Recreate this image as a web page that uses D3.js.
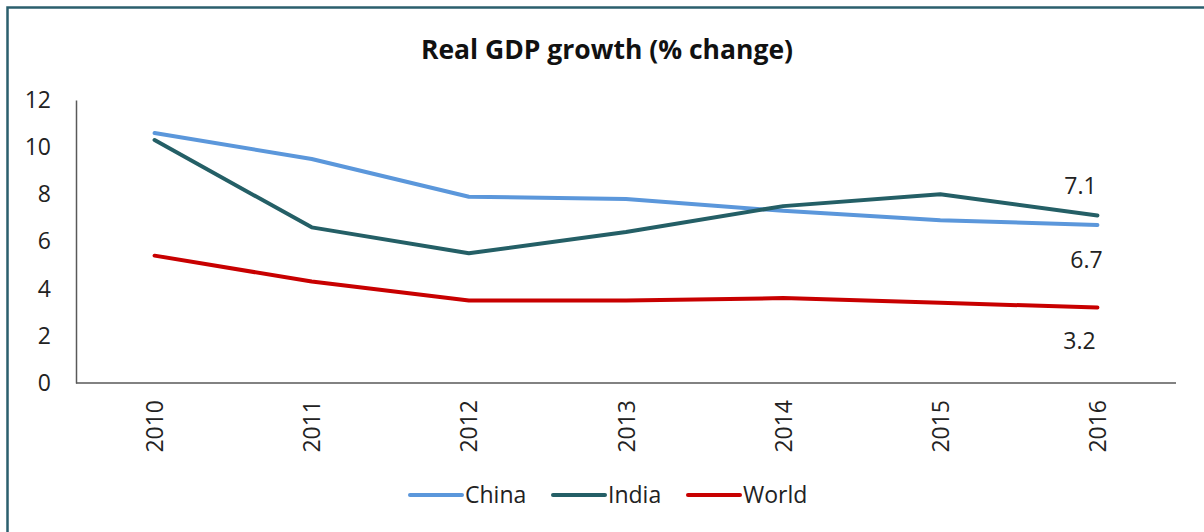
<!DOCTYPE html>
<html>
<head>
<meta charset="utf-8">
<script src="https://cdn.jsdelivr.net/npm/d3@7"></script>
<style>
  body { margin: 0; background: #fff; }
  svg { display: block; font-family: "Open Sans", Lato, sans-serif; }
</style>
</head>
<body>
<div id="chart"></div>
<script>
var years = ["2010", "2011", "2012", "2013", "2014", "2015", "2016"];
var china = [10.6, 9.5, 7.9, 7.8, 7.3, 6.9, 6.7];
var india = [10.3, 6.6, 5.5, 6.4, 7.5, 8.0, 7.1];
var world = [5.4, 4.3, 3.5, 3.5, 3.6, 3.4, 3.2];
var yTicks = [0, 2, 4, 6, 8, 10, 12];

var series = [
  {name: "China", values: china, color: "#5b97db"},
  {name: "India", values: india, color: "#245f66"},
  {name: "World", values: world, color: "#c80000"}
];

var font = "'Open Sans', Lato, sans-serif";
var W = 1204, H = 532;
var margin = {top: 100, right: 28, bottom: 149, left: 76}
  , width = W - margin.left - margin.right
  , height = H - margin.top - margin.bottom;

var svg = d3.select("#chart").append("svg")
    .attr("width", W)
    .attr("height", H);

// outer frame (right and bottom run off the picture)
svg.append("rect")
    .attr("x", 7.5).attr("y", 7.5)
    .attr("width", W + 20).attr("height", H + 20)
    .attr("fill", "none")
    .attr("stroke", "#2b5f6d")
    .attr("stroke-width", 2.5);

svg.append("text")
    .attr("x", 607).attr("y", 59)
    .attr("text-anchor", "middle")
    .attr("font-size", 26.5)
    .attr("font-weight", "bold")
    .attr("fill", "#111")
    .text("Real GDP growth (% change)");

var g = svg.append("g")
    .attr("transform", "translate(" + margin.left + "," + margin.top + ")");

var xScale = d3.scalePoint()
    .domain(years)
    .range([0, width])
    .padding(0.5);

var yScale = d3.scaleLinear()
    .domain([0, 12])
    .range([height, 0]);

// y axis
var yAxis = g.append("g")
    .call(d3.axisLeft(yScale).tickValues(yTicks).tickSize(0).tickPadding(25));
yAxis.select(".domain").attr("stroke", "#595959").attr("stroke-width", 1.5);
yAxis.selectAll("text").attr("font-size", 23).attr("fill", "#222")
    .attr("font-family", font);

// x axis
var xAxis = g.append("g")
    .attr("transform", "translate(0," + height + ")")
    .call(d3.axisBottom(xScale).tickSize(0).tickSizeOuter(0));
xAxis.select(".domain").attr("stroke", "#595959").attr("stroke-width", 1.5)
    .attr("d", "M0,0H" + width);
xAxis.selectAll("text")
    .attr("font-size", 23).attr("fill", "#222")
    .attr("font-family", font)
    .attr("text-anchor", "end")
    .attr("dy", "0.35em")
    .attr("transform", "translate(0,17) rotate(-90)")
    .attr("x", 0).attr("y", 0);

var line = d3.line()
    .x(function(d, i) { return xScale(years[i]); })
    .y(function(d) { return yScale(d); });

series.forEach(function(s) {
  g.append("path")
      .datum(s.values)
      .attr("fill", "none")
      .attr("stroke", s.color)
      .attr("stroke-width", 4)
      .attr("stroke-linecap", "round")
      .attr("stroke-linejoin", "round")
      .attr("d", line);
});

// end labels
var last = years.length - 1;
var labelOffsets = {China: [-11, 43], India: [-17, -22], World: [-18, 41]};
series.forEach(function(s) {
  var v = s.values[last];
  g.append("text")
      .attr("x", xScale(years[last]) + labelOffsets[s.name][0])
      .attr("y", yScale(v) + labelOffsets[s.name][1])
      .attr("text-anchor", "middle")
      .attr("font-size", 23)
      .attr("fill", "#222")
      .text(v.toFixed(1));
});

// legend
var legend = svg.append("g").attr("transform", "translate(410,495)");
var legendX = [0, 143, 278];
series.forEach(function(s, i) {
  var item = legend.append("g").attr("transform", "translate(" + legendX[i] + ",0)");
  item.append("line")
      .attr("x1", 0).attr("x2", 52).attr("y1", 0).attr("y2", 0)
      .attr("stroke", s.color).attr("stroke-width", 4)
      .attr("stroke-linecap", "round");
  item.append("text")
      .attr("x", 55).attr("y", 8)
      .attr("font-size", 23)
      .attr("fill", "#222")
      .text(s.name);
});
</script>
</body>
</html>
